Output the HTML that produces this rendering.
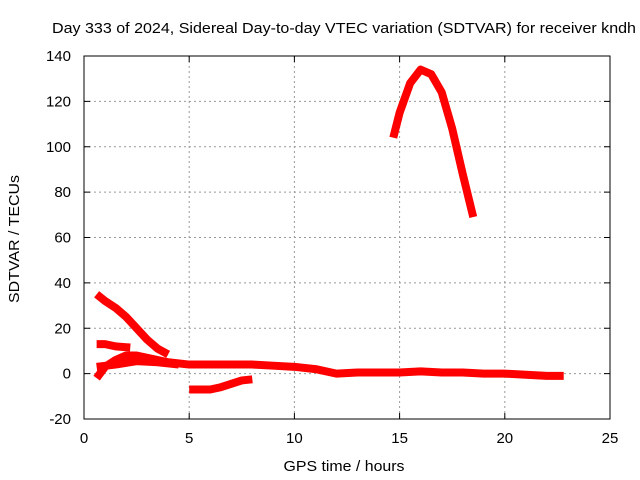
<!DOCTYPE html>
<html><head><meta charset="utf-8"><style>
body{margin:0;background:#fff;}
svg{display:block;font-family:"Liberation Sans",sans-serif;}
</style></head><body>
<svg id="chart" width="640" height="480">
<text x="344" y="33" font-size="15" text-anchor="middle" textLength="584" lengthAdjust="spacingAndGlyphs">Day 333 of 2024, Sidereal Day-to-day VTEC variation (SDTVAR) for receiver kndh</text>
<text x="344" y="471" font-size="15" text-anchor="middle" textLength="121" lengthAdjust="spacingAndGlyphs">GPS time / hours</text>
<text transform="translate(19,239) rotate(-90)" font-size="15" text-anchor="middle" textLength="128" lengthAdjust="spacingAndGlyphs">SDTVAR / TECUs</text>
<g id="grid"></g><g id="ticks"></g><g id="series"></g>
<rect x="84" y="56" width="526" height="363" fill="none" stroke="#000"/>
</svg>
<script>
const xTicks=[0,5,10,15,20,25];
const yTicks=[-20,0,20,40,60,80,100,120,140];
const arcX=[14.7,15,15.5,16,16.5,17,17.5,18,18.5];
const arcY=[104,115,128,134,132,124,108,88,69];
const declX=[0.6,1,1.5,2,2.5,3,3.5,4];
const declY=[35,32,29,25,20,15,11,8.5];
const shortX=[0.6,1,1.5,2.2];
const shortY=[13,13,12,11.5];
const mainX=[0.6,1,1.5,2,2.5,3,3.5,4,5,6,7,8,9,10,11,12,13,14,15,16,17,18,19,20,21,22,22.8];
const mainY=[-2,3,6,8,8,7,6,5,4,4,4,4,3.5,3,2,0,0.5,0.5,0.5,1,0.5,0.5,0,0,-0.5,-1,-1];
const lowX=[0.6,1.5,2.5,3.5,4.5];
const lowY=[3,4,5.5,5,4];
const negX=[5,6,6.5,7,7.5,8];
const negY=[-7,-7,-6,-4.5,-3,-2.5];
const X=v=>84+v*526/25, Y=v=>419-(v+20)*363/160;
const NS="http://www.w3.org/2000/svg";
function mk(t,a,p){const e=document.createElementNS(NS,t);for(const k in a)e.setAttribute(k,a[k]);p.appendChild(e);return e;}
const g=document.getElementById('grid'),tk=document.getElementById('ticks'),s=document.getElementById('series');
xTicks.forEach(v=>{
 if(v>0&&v<25){const l=mk('line',{x1:X(v),x2:X(v),y1:56,y2:419,stroke:'#999','stroke-dasharray':'2,3'},g);
 
 }
 const t=mk('text',{x:X(v),y:443,'font-size':15,'text-anchor':'middle'},tk);t.textContent=v;
 
 
 mk('line',{x1:X(v),x2:X(v),y1:419,y2:413,stroke:'#000'},tk);mk('line',{x1:X(v),x2:X(v),y1:56,y2:62,stroke:'#000'},tk);
});
yTicks.forEach(v=>{
 if(v>-20&&v<140){const l=mk('line',{x1:84,x2:610,y1:Y(v),y2:Y(v),stroke:'#999','stroke-dasharray':'2,3'},g);
 
 }
 const t=mk('text',{x:71,y:Y(v)+5,'font-size':15,'text-anchor':'end'},tk);t.textContent=v;
 
 
 mk('line',{x1:84,x2:90,y1:Y(v),y2:Y(v),stroke:'#000'},tk);mk('line',{x1:610,x2:604,y1:Y(v),y2:Y(v),stroke:'#000'},tk);
});
[[arcX,arcY,'arc-series'],[declX,declY,'declining-series'],[shortX,shortY,'short-series'],[mainX,mainY,'main-series'],[lowX,lowY,'low-series'],[negX,negY,'negative-series']].forEach(([xs,ys,n])=>{
 const p=mk('polyline',{points:xs.map((x,i)=>X(x)+','+Y(ys[i])).join(' '),fill:'none',stroke:'#f00','stroke-width':8,'stroke-linejoin':'round'},s);
 
 
});
</script>
</body></html>
